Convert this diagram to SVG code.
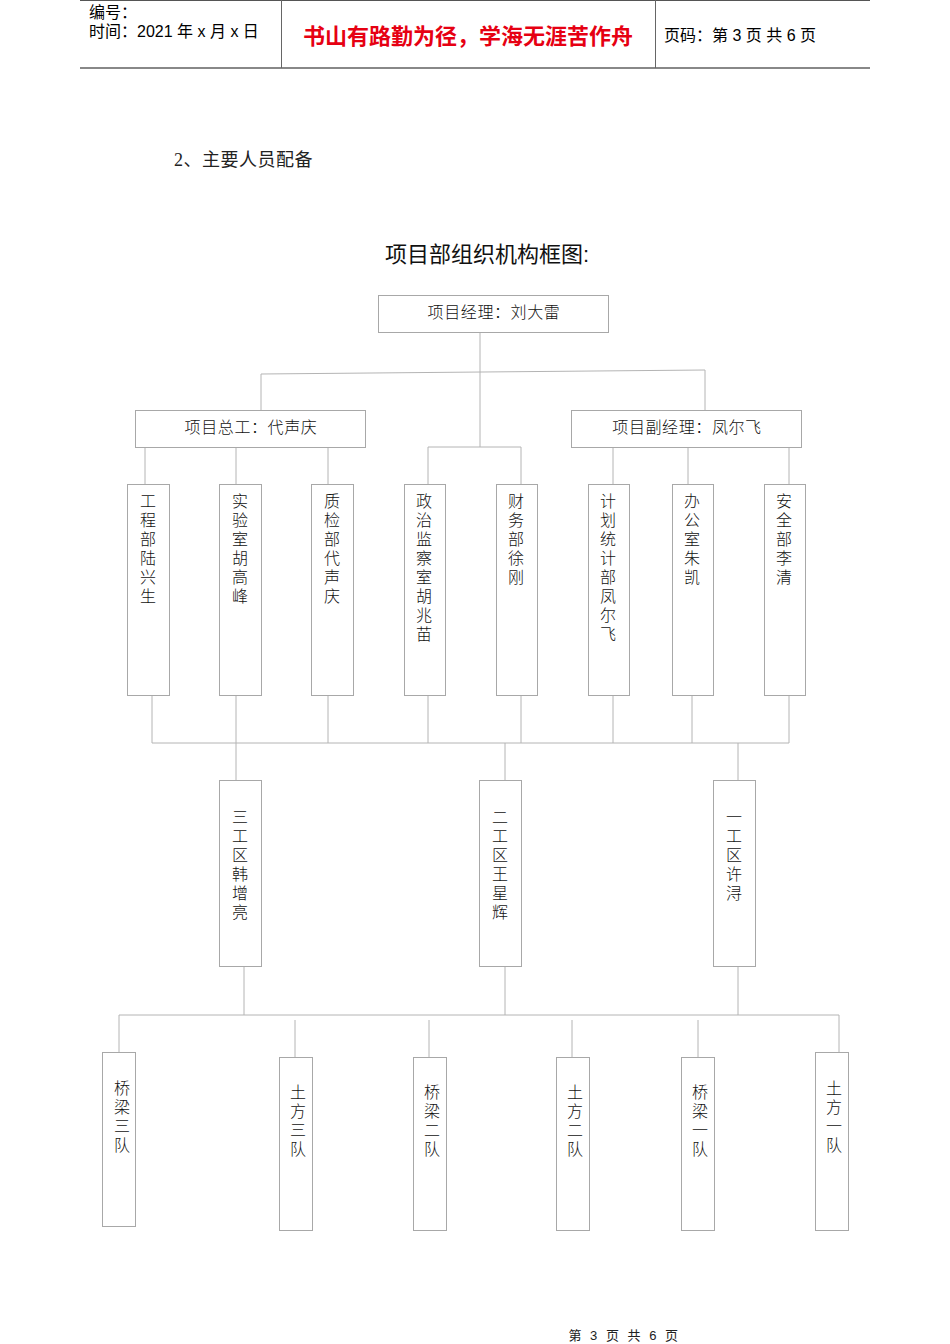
<svg xmlns="http://www.w3.org/2000/svg" width="950" height="1344" viewBox="0 0 950 1344">
<style>
.hdr{font-family:"Liberation Sans","Noto Sans CJK SC",sans-serif;font-size:16px;fill:#000}
.red{font-family:"Liberation Sans","Noto Sans CJK SC",sans-serif;font-size:22px;font-weight:bold;fill:#e60012}
.t{font-family:"Liberation Serif","Noto Sans CJK SC",serif;font-size:16px;fill:#111;font-weight:300;letter-spacing:0.6px}
.v{font-family:"Liberation Serif","Noto Sans CJK SC",serif;font-size:16px;fill:#111;font-weight:300;text-anchor:middle}
.box{fill:#fff;stroke:#a8a8a8;stroke-width:1}
.ln{fill:none;stroke:#b4b4b4;stroke-width:1}
</style>
<rect width="950" height="1344" fill="#fff"/>
<g id="header">
<line x1="80" y1="0.5" x2="870" y2="0.5" stroke="#555" stroke-width="1"/>
<line x1="80" y1="68" x2="870" y2="68" stroke="#888" stroke-width="2"/>
<line x1="281.5" y1="0" x2="281.5" y2="68" stroke="#666"/>
<line x1="655.5" y1="0" x2="655.5" y2="68" stroke="#666"/>
<text class="hdr" x="89" y="18">编号：</text>
<text class="hdr" x="89" y="37">时间：2021 年 x 月 x 日</text>
<text class="red" x="468" y="44" text-anchor="middle">书山有路勤为径，学海无涯苦作舟</text>
<text class="hdr" x="664" y="41">页码：第 3 页  共 6 页</text>
</g>
<text x="174" y="166" font-family="Liberation Serif,Noto Sans CJK SC,serif" font-size="18" fill="#222" letter-spacing="0.5">2、主要人员配备</text>
<text x="487" y="262" text-anchor="middle" font-family="Liberation Sans,Noto Sans CJK SC,sans-serif" font-size="22" fill="#111">项目部组织机构框图:</text>
<g id="connectors">
<path class="ln" d="M480 332V447M261 410V374L705 370V410M428 484V447H521V484"/>
<path class="ln" d="M145 447V484M236 447V484M328 447V484M613 447V484M688 447V484M789 447V484"/>
<path class="ln" d="M152 695V743M236 695V780M328 695V743M428 695V743M521 695V743M613 695V743M692 695V743M789 695V743M152 743H789M505 743V780M738 743V780"/>
<path class="ln" d="M244 966V1015M505 966V1015M738 966V1015M119 1052V1015H839V1052M295 1020V1057M429 1020V1057M572 1020V1057M698 1020V1057"/>
</g>
<g id="n-pm"><rect class="box" x="378.5" y="295.5" width="230" height="37"/><text class="t" x="494" y="318" text-anchor="middle">项目经理：刘大雷</text></g>
<g id="n-chief"><rect class="box" x="135.5" y="410.5" width="230" height="37"/><text class="t" x="251" y="433" text-anchor="middle">项目总工：代声庆</text></g>
<g id="n-dpm"><rect class="box" x="571.5" y="410.5" width="230" height="37"/><text class="t" x="687" y="433" text-anchor="middle">项目副经理：凤尔飞</text></g>
<g id="n-d1"><rect class="box" x="127.5" y="484.5" width="42" height="211"/><text class="v"><tspan x="148" y="507">工</tspan><tspan x="148" y="526">程</tspan><tspan x="148" y="545">部</tspan><tspan x="148" y="564">陆</tspan><tspan x="148" y="583">兴</tspan><tspan x="148" y="602">生</tspan></text></g>
<g id="n-d2"><rect class="box" x="219.5" y="484.5" width="42" height="211"/><text class="v"><tspan x="240" y="507">实</tspan><tspan x="240" y="526">验</tspan><tspan x="240" y="545">室</tspan><tspan x="240" y="564">胡</tspan><tspan x="240" y="583">高</tspan><tspan x="240" y="602">峰</tspan></text></g>
<g id="n-d3"><rect class="box" x="311.5" y="484.5" width="42" height="211"/><text class="v"><tspan x="332" y="507">质</tspan><tspan x="332" y="526">检</tspan><tspan x="332" y="545">部</tspan><tspan x="332" y="564">代</tspan><tspan x="332" y="583">声</tspan><tspan x="332" y="602">庆</tspan></text></g>
<g id="n-d4"><rect class="box" x="404.5" y="484.5" width="41" height="211"/><text class="v"><tspan x="424" y="507">政</tspan><tspan x="424" y="526">治</tspan><tspan x="424" y="545">监</tspan><tspan x="424" y="564">察</tspan><tspan x="424" y="583">室</tspan><tspan x="424" y="602">胡</tspan><tspan x="424" y="621">兆</tspan><tspan x="424" y="640">苗</tspan></text></g>
<g id="n-d5"><rect class="box" x="496.5" y="484.5" width="41" height="211"/><text class="v"><tspan x="516" y="507">财</tspan><tspan x="516" y="526">务</tspan><tspan x="516" y="545">部</tspan><tspan x="516" y="564">徐</tspan><tspan x="516" y="583">刚</tspan></text></g>
<g id="n-d6"><rect class="box" x="588.5" y="484.5" width="41" height="211"/><text class="v"><tspan x="608" y="507">计</tspan><tspan x="608" y="526">划</tspan><tspan x="608" y="545">统</tspan><tspan x="608" y="564">计</tspan><tspan x="608" y="583">部</tspan><tspan x="608" y="602">凤</tspan><tspan x="608" y="621">尔</tspan><tspan x="608" y="640">飞</tspan></text></g>
<g id="n-d7"><rect class="box" x="672.5" y="484.5" width="41" height="211"/><text class="v"><tspan x="692" y="507">办</tspan><tspan x="692" y="526">公</tspan><tspan x="692" y="545">室</tspan><tspan x="692" y="564">朱</tspan><tspan x="692" y="583">凯</tspan></text></g>
<g id="n-d8"><rect class="box" x="764.5" y="484.5" width="41" height="211"/><text class="v"><tspan x="784" y="507">安</tspan><tspan x="784" y="526">全</tspan><tspan x="784" y="545">部</tspan><tspan x="784" y="564">李</tspan><tspan x="784" y="583">清</tspan></text></g>
<g id="n-z3"><rect class="box" x="219.5" y="780.5" width="42" height="186"/><text class="v"><tspan x="240" y="823">三</tspan><tspan x="240" y="842">工</tspan><tspan x="240" y="861">区</tspan><tspan x="240" y="880">韩</tspan><tspan x="240" y="899">增</tspan><tspan x="240" y="918">亮</tspan></text></g>
<g id="n-z2"><rect class="box" x="479.5" y="780.5" width="42" height="186"/><text class="v"><tspan x="500" y="823">二</tspan><tspan x="500" y="842">工</tspan><tspan x="500" y="861">区</tspan><tspan x="500" y="880">王</tspan><tspan x="500" y="899">星</tspan><tspan x="500" y="918">辉</tspan></text></g>
<g id="n-z1"><rect class="box" x="713.5" y="780.5" width="42" height="186"/><text class="v"><tspan x="734" y="823">一</tspan><tspan x="734" y="842">工</tspan><tspan x="734" y="861">区</tspan><tspan x="734" y="880">许</tspan><tspan x="734" y="899">浔</tspan></text></g>
<g id="n-t1"><rect class="box" x="102.5" y="1052.5" width="33" height="174"/><text class="v"><tspan x="122" y="1094">桥</tspan><tspan x="122" y="1113">梁</tspan><tspan x="122" y="1132">三</tspan><tspan x="122" y="1151">队</tspan></text></g>
<g id="n-t2"><rect class="box" x="279.5" y="1057.5" width="33" height="173"/><text class="v"><tspan x="298" y="1098">土</tspan><tspan x="298" y="1117">方</tspan><tspan x="298" y="1136">三</tspan><tspan x="298" y="1155">队</tspan></text></g>
<g id="n-t3"><rect class="box" x="413.5" y="1057.5" width="33" height="173"/><text class="v"><tspan x="432" y="1098">桥</tspan><tspan x="432" y="1117">梁</tspan><tspan x="432" y="1136">二</tspan><tspan x="432" y="1155">队</tspan></text></g>
<g id="n-t4"><rect class="box" x="556.5" y="1057.5" width="33" height="173"/><text class="v"><tspan x="575" y="1098">土</tspan><tspan x="575" y="1117">方</tspan><tspan x="575" y="1136">二</tspan><tspan x="575" y="1155">队</tspan></text></g>
<g id="n-t5"><rect class="box" x="681.5" y="1057.5" width="33" height="173"/><text class="v"><tspan x="700" y="1098">桥</tspan><tspan x="700" y="1117">梁</tspan><tspan x="700" y="1136">一</tspan><tspan x="700" y="1155">队</tspan></text></g>
<g id="n-t6"><rect class="box" x="815.5" y="1052.5" width="33" height="178"/><text class="v"><tspan x="834" y="1094">土</tspan><tspan x="834" y="1113">方</tspan><tspan x="834" y="1132">一</tspan><tspan x="834" y="1151">队</tspan></text></g>
<text x="624" y="1340" text-anchor="middle" font-family="Liberation Sans,Noto Sans CJK SC,sans-serif" font-size="13" fill="#222" letter-spacing="1.5" word-spacing="2">第 3 页 共 6 页</text>
</svg>
